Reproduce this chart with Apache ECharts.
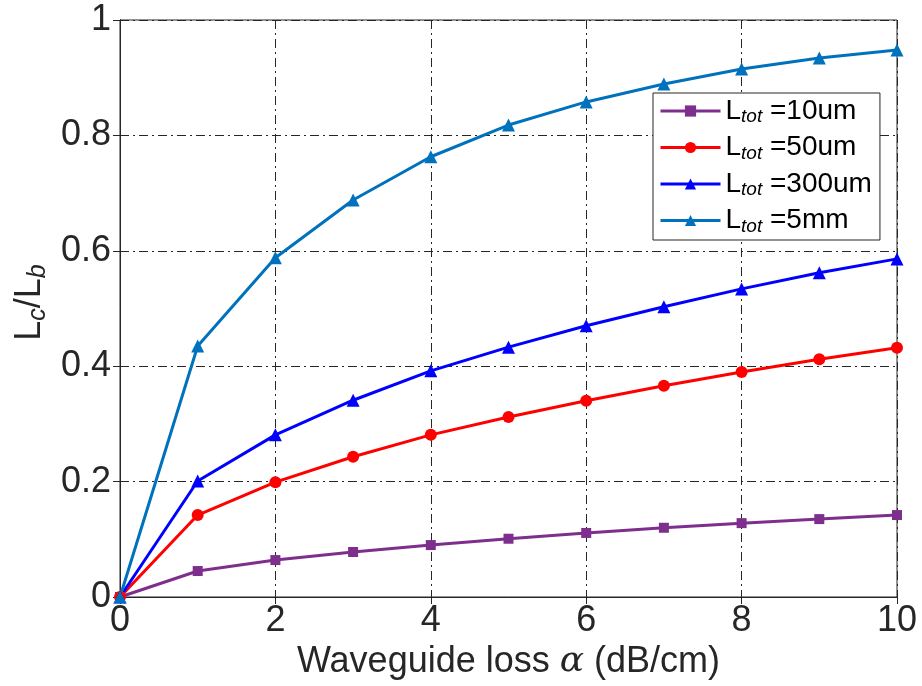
<!DOCTYPE html>
<html><head><meta charset="utf-8">
<script src="https://cdn.jsdelivr.net/npm/echarts@6/dist/echarts.min.js"></script>
<style>html,body{margin:0;padding:0;background:#fff}#c{width:922px;height:686px}</style>
</head><body><div id="c"></div>
<script>
var xValues = [0,1,2,3,4,5,6,7,8,9,10];
var s10um  = [0,0.045,0.064,0.078,0.090,0.101,0.111,0.120,0.128,0.135,0.142];
var s50um  = [0,0.142,0.199,0.243,0.281,0.312,0.340,0.366,0.390,0.412,0.432];
var s300um = [0,0.201,0.281,0.341,0.392,0.433,0.470,0.503,0.534,0.562,0.586];
var s5mm   = [0,0.435,0.588,0.688,0.763,0.818,0.858,0.889,0.915,0.934,0.948];
var seriesNames = ['10um','50um','300um','5mm'];
var xTicks = [0,2,4,6,8,10];
var yTicks = [0,0.2,0.4,0.6,0.8,1];

var FONT = 'Liberation Sans';
var chart = echarts.init(document.getElementById('c'));
function pairs(arr){ return xValues.map(function(x,i){return [x,arr[i]];}); }
function mk(name, data, color, symbol, size){
  return {name:name, type:'line', data:pairs(data), color:color, symbol:symbol, symbolSize:size,
    lineStyle:{width:3,color:color}, itemStyle:{color:color}, z:5};
}
var gl = {show:true, lineStyle:{color:'#262626', width:1, type:[9,4,2,4]}};
var AX = '#262626';
chart.setOption({
  animation:false,
  backgroundColor:'#fff',
  grid:{left:120, right:25, top:20, bottom:89, show:true, borderColor:AX, borderWidth:1},
  legend:{
    left:653, top:93, orient:'vertical', itemGap:7, itemWidth:60, itemHeight:14,
    padding:[4,8,4,6], backgroundColor:'#fff', borderColor:AX, borderWidth:1,
    data:seriesNames,
    lineStyle:{width:3},
    formatter:function(n){ return '{a|L}{b|tot}{a| =' + n + '}'; },
    textStyle:{fontFamily:FONT, color:'#000', fontSize:28,
      rich:{a:{fontFamily:FONT,fontSize:28,color:'#000'}, b:{fontFamily:FONT,fontSize:19,fontStyle:'italic',color:'#000',verticalAlign:'bottom',padding:[12,0,0,0]}}}
  },
  xAxis:[{
    type:'value', min:0, max:10, interval:2,
    name:'{n|Waveguide loss }{g|α}{n| (dB/cm)}', nameLocation:'middle', nameGap:38,
    nameTextStyle:{fontFamily:FONT, fontSize:36, color:AX,
      rich:{n:{fontFamily:FONT,fontSize:36,color:AX}, g:{fontFamily:'DejaVu Serif',fontStyle:'italic',fontSize:36,color:AX}}},
    axisLine:{show:true, lineStyle:{color:AX}},
    axisTick:{show:true, inside:true, length:7, lineStyle:{color:AX}},
    axisLabel:{fontFamily:FONT, fontSize:36, color:AX, margin:6},
    splitLine:gl
  },{
    type:'value', position:'top', min:0, max:10, interval:2,
    axisLine:{show:true, lineStyle:{color:AX}},
    axisTick:{show:true, inside:true, length:7, lineStyle:{color:AX}},
    axisLabel:{show:false}, splitLine:{show:false}
  }],
  yAxis:[{
    type:'value', min:0, max:1, interval:0.2,
    name:'{n|L}{s|c}{n|/L}{s|b}', nameLocation:'middle', nameGap:61, nameRotate:90,
    nameTextStyle:{fontFamily:FONT, fontSize:36, color:AX, padding:[0,0,0,12],
      rich:{n:{fontFamily:FONT,fontSize:36,color:AX}, s:{fontFamily:FONT,fontSize:25,fontStyle:'italic',color:AX,verticalAlign:'bottom',padding:[14,0,0,0]}}},
    axisLine:{show:true, lineStyle:{color:AX}},
    axisTick:{show:true, inside:true, length:7, lineStyle:{color:AX}},
    axisLabel:{fontFamily:FONT, fontSize:36, color:AX, margin:9,
      formatter:function(v){ return String(Math.round(v*10)/10); }},
    splitLine:gl
  },{
    type:'value', position:'right', min:0, max:1, interval:0.2,
    axisLine:{show:true, lineStyle:{color:AX}},
    axisTick:{show:true, inside:true, length:7, lineStyle:{color:AX}},
    axisLabel:{show:false}, splitLine:{show:false}
  }],
  series:[
    mk('10um', s10um, '#7E2F8E', 'rect', 10),
    mk('50um', s50um, '#FF0000', 'circle', 12),
    mk('300um', s300um, '#0000FF', 'triangle', 13),
    mk('5mm', s5mm, '#0072BD', 'triangle', 13)
  ]
});
</script></body></html>
